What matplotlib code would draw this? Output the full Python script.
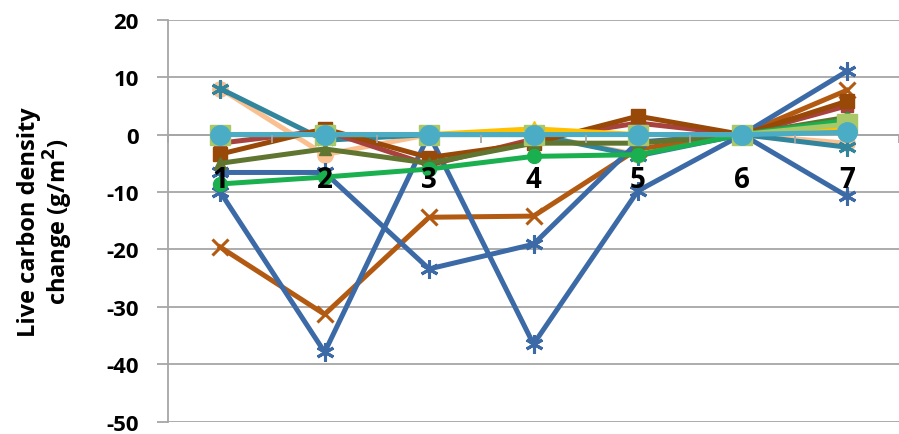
import matplotlib
matplotlib.use("Agg")
import matplotlib.pyplot as plt

categories = [1, 2, 3, 4, 5, 6, 7]
cat_labels = ["1", "2", "3", "4", "5", "6", "7"]

peach_circle = [8.0, -3.5, 0.0, 0.0, -3.5, 0.0, -1.5]
teal_star = [8.0, -1.0, 0.0, 0.0, -3.7, 0.0, -2.2]
brown_x = [-19.6, -31.3, -14.4, -14.2, -2.5, 0.0, 7.7]
blue_star_b = [-6.6, -6.6, -23.4, -19.1, -1.3, 0.0, 11.0]
blue_star_a = [-10.0, -37.9, 0.0, -36.5, -9.8, 0.0, -10.7]
red_sq = [-1.5, 0.7, -5.3, -0.8, 2.0, 0.0, 5.0]
brown_sq = [-3.4, 1.0, -4.0, -1.5, 3.2, 0.0, 5.8]
olive = [-5.0, -2.5, -5.0, -1.5, -1.5, 0.0, 3.0]
green_circle = [-8.6, -7.4, -6.0, -3.8, -3.5, 0.0, 2.5]
gold_tri = [0.0, 0.0, 0.0, 1.0, 0.0, 0.0, 1.0]
lgreen_sq = [0.0, 0.0, 0.0, 0.0, 0.0, 0.0, 1.8]
aqua_circle = [0.0, 0.0, 0.0, 0.0, 0.0, 0.0, 0.4]

yticks = [20, 10, 0, -10, -20, -30, -40, -50]

FONT = "Open Sans"

fig = plt.figure(figsize=(8.99, 4.35), dpi=100)
ax = fig.add_axes([168 / 899, 12.3 / 435, (899 - 168) / 899, (422.7 - 20.7) / 435])

LW = 3.6
star = (6, 2, 0)

series = [
    (peach_circle, "#FAC090", "o", 11, "#FAC090"),
    (teal_star, "#31859C", star, 13, "#31859C"),
    (brown_x, "#B35A12", "x", 12, "#B35A12"),
    (blue_star_b, "#3C6AA6", star, 13, "#3C6AA6"),
    (blue_star_a, "#3C6AA6", star, 13, "#3C6AA6"),
    (red_sq, "#A8423F", "s", 9, "#A8423F"),
    (brown_sq, "#984807", "s", 10, "#984807"),
    (olive, "#5F7530", "^", 8, "#5F7530"),
    (green_circle, "#1BB04F", "o", 10, "#1BB04F"),
    (gold_tri, "#FFC000", "^", 11, "#FFC000"),
    (lgreen_sq, "#A9C868", "s", 14, "#A9C868"),
    (aqua_circle, "#4BACC6", "o", 14, "#4BACC6"),
]

for vals, color, marker, ms, mc in series:
    mew = 2.2 if marker in ("x", star) else 1.0
    ax.plot(categories, vals, color=color, lw=LW, marker=marker, ms=ms,
            markerfacecolor=mc, markeredgecolor=mc, markeredgewidth=mew,
            solid_joinstyle="round", clip_on=False, zorder=3)

ax.set_xlim(0.5, 7.5)
ax.set_ylim(-50, 20)
ax.set_yticks(yticks)
ax.set_yticklabels([str(v) for v in yticks], fontfamily=FONT,
                   fontweight="bold", fontsize=16)
ax.yaxis.grid(True, color="#A6A6A6", lw=1.3)
ax.set_axisbelow(True)

ax.spines["top"].set_visible(False)
ax.spines["right"].set_visible(False)
ax.spines["left"].set_color("#A6A6A6")
ax.spines["left"].set_linewidth(1.3)
ax.spines["bottom"].set_position(("data", 0))
ax.spines["bottom"].set_color("#A6A6A6")
ax.spines["bottom"].set_linewidth(1.3)
ax.spines["bottom"].set_zorder(1)

ax.tick_params(axis="y", length=8, width=1.3, color="#A6A6A6", pad=13)
ax.set_xticks(categories)
ax.set_xticklabels(cat_labels, fontfamily=FONT, fontweight="bold", fontsize=20)
ax.set_xticks([c + 0.5 for c in categories[:-1]] + [0.5, 7.5], minor=True)
ax.tick_params(axis="x", which="major", length=0, pad=22)
ax.tick_params(axis="x", which="minor", length=6, width=1.3, color="#A6A6A6")
ax.xaxis.set_zorder(5)

fig.text(46 / 899, 1 - 222 / 435, "Live carbon density\nchange (g/m$^\\mathbf{2}$)",
         rotation=90, ha="center", va="center", fontfamily=FONT,
         fontweight="bold", fontsize=17, linespacing=1.05)

fig.savefig("out.png", dpi=100)
